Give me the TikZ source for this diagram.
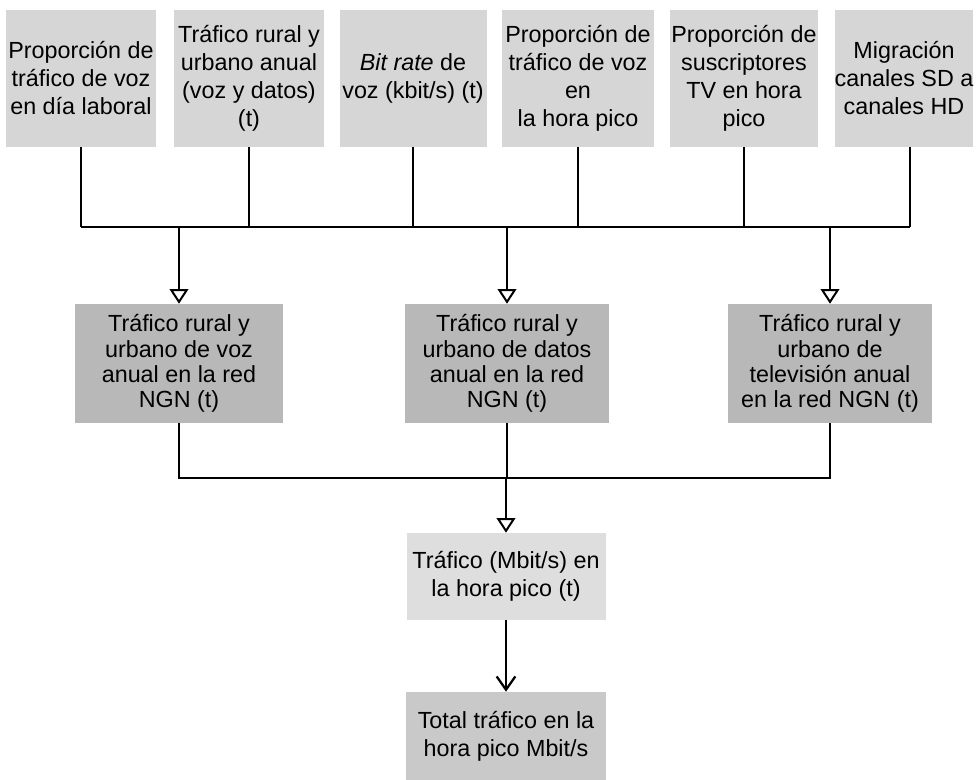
\documentclass[tikz,border=0pt]{standalone}
\usepackage{fontspec}
\setmainfont{Liberation Sans}
\usetikzlibrary{arrows.meta}

\definecolor{toptone}{gray}{0.84}
\definecolor{midtone}{gray}{0.72}
\definecolor{peaktone}{gray}{0.87}
\definecolor{totaltone}{gray}{0.79}

\tikzset{
  inbox/.style={fill=toptone, draw=none, minimum width=150*0.75pt,
    minimum height=137*0.75pt, inner sep=0pt, align=center,
    font=\fontsize{17.5pt}{21pt}\selectfont},
  calcbox/.style={fill=midtone, draw=none, minimum width=205*0.75pt,
    minimum height=119*0.75pt, inner sep=0pt, align=center,
    font=\fontsize{17.5pt}{19pt}\selectfont},
  resbox/.style={draw=none, minimum width=199*0.75pt,
    minimum height=87*0.75pt, inner sep=0pt, align=center,
    font=\fontsize{17.5pt}{21pt}\selectfont},
  link/.style={draw=black, line width=1.7pt},
  feed/.style={link, -{Triangle[open, length=11pt, width=14pt, line width=1.5pt]}},
  feedbarb/.style={link, -{Straight Barb[length=10pt, width=14pt, line width=1.7pt]}}
}

\begin{document}
\begin{tikzpicture}[x=0.75pt, y=-0.75pt]
\useasboundingbox (0,0) rectangle (976,780);

% input parameters
\node[inbox] (b1) at (81,78.5)  {Proporción de\\tráfico de voz\\en día laboral};
\node[inbox] (b2) at (249,78.5) {Tráfico rural y\\urbano anual\\(voz y datos)\\(t)};
\node[inbox, minimum width=147*0.75pt] (b3) at (413,78.5) {\textit{Bit rate} de\\voz (kbit/s) (t)};
\node[inbox, minimum width=152*0.75pt] (b4) at (578,78.5) {Proporción de\\tráfico de voz\\en\\la hora pico};
\node[inbox, minimum width=148*0.75pt] (b5) at (744,78.5) {Proporción de\\suscriptores\\TV en hora\\pico};
\node[inbox, minimum width=136*0.75pt] (b6) at (904,78.5) {Migración\\canales SD a\\canales HD};

% annual traffic per service
\node[calcbox, minimum width=208*0.75pt] (m1) at (179,363.5) {Tráfico rural y\\urbano de voz\\anual  en la red\\NGN (t)};
\node[calcbox, minimum width=204*0.75pt] (m2) at (507,363.5) {Tráfico rural y\\urbano de datos\\anual en la red\\NGN (t)};
\node[calcbox, minimum width=204*0.75pt] (m3) at (830,363.5) {Tráfico rural y\\urbano de\\televisión anual\\en la red NGN (t)};

% peak-hour results
\node[resbox, fill=peaktone] (t1) at (506,576.5) {Tráfico (Mbit/s) en\\la hora pico (t)};
\node[resbox, fill=totaltone, minimum width=200*0.75pt, minimum height=88*0.75pt] (t2) at (506,736) {Total tráfico en la\\hora pico Mbit/s};

% collector lines
\coordinate (busA) at (0,227);
\coordinate (busB) at (0,478);
\coordinate (drop6) at (910,0);

\foreach \b in {b1,b2,b3,b4,b5}
  \draw[link] (\b.south) -- (\b.south |- busA);
\draw[link] (b6.south -| drop6) -- (drop6 |- busA);
\draw[link] (b1.south |- busA) -- (drop6 |- busA);

\foreach \m in {m1,m2,m3}
  \draw[feed] (\m.north |- busA) -- (\m.north);

\draw[link] (m1.south) -- (m1.south |- busB) -- (m3.south |- busB) -- (m3.south);
\draw[link] (m2.south) -- (m2.south |- busB);
\draw[feed] (t1.north |- busB) -- (t1.north);
\draw[feedbarb] (t1.south) -- (t2.north);
\end{tikzpicture}
\end{document}
